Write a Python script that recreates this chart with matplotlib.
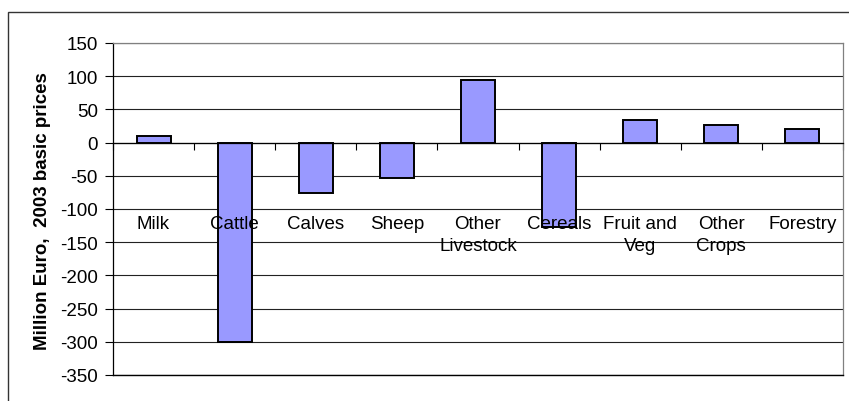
import matplotlib
matplotlib.use("Agg")
import matplotlib.pyplot as plt
from matplotlib.patches import Rectangle

# data
categories = ["Milk", "Cattle", "Calves", "Sheep", "Other\nLivestock",
              "Cereals", "Fruit and\nVeg", "Other\nCrops", "Forestry"]
values = [10, -300, -76.5, -53.5, 94, -127.5, 33.5, 27, 20.5]
yticks = [150, 100, 50, 0, -50, -100, -150, -200, -250, -300, -350]

plt.rcParams['font.family'] = ['Liberation Sans', 'DejaVu Sans']

fig = plt.figure(figsize=(8.49, 4.02), dpi=100)
W, H = 849, 402

# outer chart border (cut off at right and bottom like the reference)
fig.patches.append(Rectangle((8 / W, -0.1), 1.2, (H - 13) / H + 0.1,
                             transform=fig.transFigure, fill=False,
                             edgecolor='#333333', linewidth=1.0))

ax = fig.add_axes([113 / W, 26 / H, 730 / W, 332 / H])
x = list(range(len(categories)))
ax.bar(x, values, width=0.42, color='#9999FF', edgecolor='black',
       linewidth=1.4, zorder=3)

ax.set_xlim(-0.5, len(categories) - 0.5)
ax.set_ylim(-350, 150)
ax.set_yticks(yticks)
ax.set_yticklabels([str(v) for v in yticks], fontsize=13.5)
ax.yaxis.grid(True, color='#222222', linewidth=0.8, zorder=0)
ax.axhline(-350, color='black', linewidth=1.0, zorder=4, clip_on=False)
ax.tick_params(axis='y', length=6, width=0.8, pad=5, direction='out')

# category axis sits at zero
ax.spines['bottom'].set_position(('data', 0))
ax.spines['bottom'].set_zorder(4)
ax.set_xticks([i + 0.5 for i in range(-1, len(categories))])
ax.set_xticklabels([])
ax.tick_params(axis='x', length=5, width=0.8, direction='out')
ax.spines['top'].set_color('#808080')
ax.spines['right'].set_color('#808080')
ax.spines['left'].set_color('black')
for s in ax.spines.values():
    s.set_linewidth(0.9)

for i, name in enumerate(categories):
    ax.text(i, -109, name, ha='center', va='top', fontsize=13.5,
            linespacing=1.35, zorder=5)

fig.text(43 / W, (H - 211) / H, "Million Euro,  2003 basic prices",
         rotation=90, ha='center', va='center', fontsize=13.5,
         fontweight='bold')

fig.savefig("out.png", dpi=100)
